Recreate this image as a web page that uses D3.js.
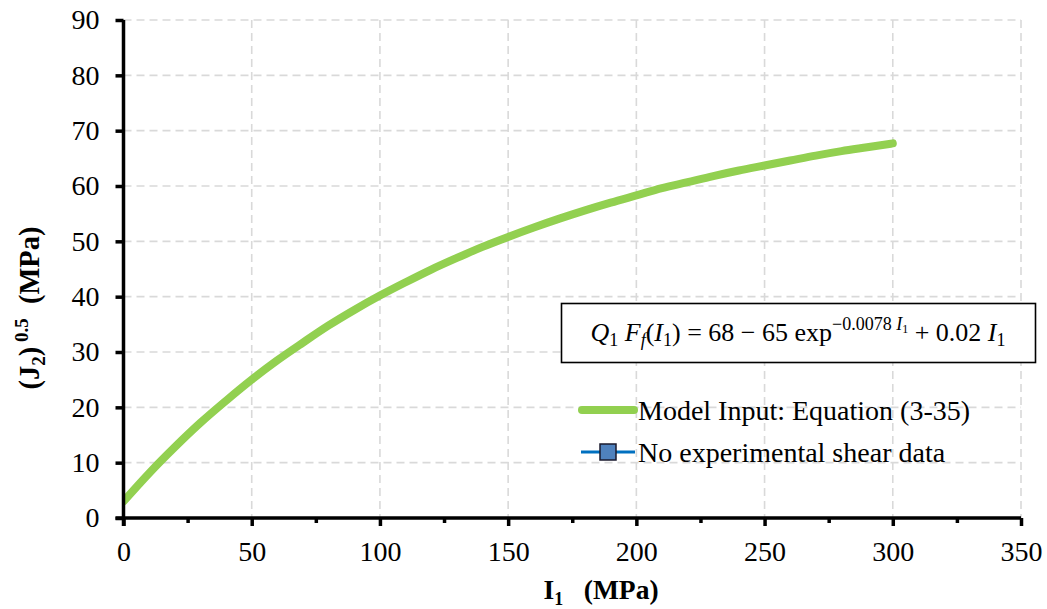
<!DOCTYPE html>
<html>
<head>
<meta charset="utf-8">
<script src="https://cdn.jsdelivr.net/npm/d3@7/dist/d3.min.js"></script>
<style>
  html, body { margin: 0; padding: 0; background: #fff; }
  svg { display: block; }
  svg text { font-family: "Times New Roman", "Liberation Serif", Tinos, "DejaVu Serif", serif !important; fill: #000; }
</style>
</head>
<body>
<svg id="chart" width="1047" height="609"></svg>
<script>
// Model input curve: shear strength (J2)^0.5 against I1, both in MPa
const i1Values = [0, 10, 20, 30, 40, 50, 60, 70, 80, 90, 100, 110, 120, 130, 140, 150,
                  160, 170, 180, 190, 200, 210, 220, 230, 240, 250, 260, 270, 280, 290, 300];
const j2RootValues = [3.0, 8.1, 12.8, 17.2, 21.2, 25.0, 28.5, 31.7, 34.8, 37.6, 40.2, 42.6, 44.9, 47.0, 49.0, 50.8,
                      52.5, 54.1, 55.6, 57.0, 58.3, 59.6, 60.7, 61.8, 62.8, 63.7, 64.6, 65.5, 66.3, 67.0, 67.7];

const xTicks = [0, 50, 100, 150, 200, 250, 300, 350];
const xMinorTicks = [25, 75, 125, 175, 225, 275, 325];
const yTicks = [0, 10, 20, 30, 40, 50, 60, 70, 80, 90];
const legendLabels = ["Model Input: Equation (3-35)", "No experimental shear data"];

const svg = d3.select("#chart");
const plotLeft = 123.5, plotRight = 1021, plotTop = 20, plotBottom = 518;

const x = d3.scaleLinear().domain([0, 350]).range([plotLeft, plotRight]);
const y = d3.scaleLinear().domain([0, 90]).range([plotBottom, plotTop]);

// dashed grid
const grid = svg.append("g").attr("stroke", "#d9d9d9").attr("stroke-width", 1.6)
  .attr("stroke-dasharray", "8,5").attr("fill", "none");
grid.selectAll("line.h").data(yTicks.filter(d => d > 0)).join("line").attr("class", "h")
  .attr("x1", plotLeft).attr("x2", plotRight).attr("y1", d => y(d)).attr("y2", d => y(d));
grid.selectAll("line.v").data(xTicks.filter(d => d > 0)).join("line").attr("class", "v")
  .attr("y1", plotTop).attr("y2", plotBottom).attr("x1", d => x(d)).attr("x2", d => x(d));

// curve
svg.append("clipPath").attr("id", "plotClip").append("rect")
  .attr("x", plotLeft).attr("y", plotTop - 10).attr("width", plotRight - plotLeft + 10).attr("height", plotBottom - plotTop + 10);

const line = d3.line().x((d, i) => x(i1Values[i])).y(d => y(d)).curve(d3.curveMonotoneX);
svg.append("path")
  .attr("clip-path", "url(#plotClip)")
  .attr("d", line(j2RootValues))
  .attr("fill", "none").attr("stroke", "#92d050").attr("stroke-width", 8)
  .attr("stroke-linecap", "round").attr("stroke-linejoin", "round");

// axes
const xAxis = svg.append("g").attr("transform", `translate(0,${plotBottom})`)
  .call(d3.axisBottom(x).tickValues(xTicks).tickSize(8).tickPadding(15).tickFormat(d3.format("d")));
const xMinor = svg.append("g").attr("transform", `translate(0,${plotBottom})`)
  .call(d3.axisBottom(x).tickValues(xMinorTicks).tickSize(5).tickFormat(""));
xMinor.select(".domain").remove();
const yAxis = svg.append("g").attr("transform", `translate(${plotLeft},0)`)
  .call(d3.axisLeft(y).tickValues(yTicks).tickSize(8).tickPadding(16).tickFormat(d3.format("d")));

[xAxis, xMinor, yAxis].forEach(g => {
  g.attr("font-family", null);
  g.selectAll(".domain").attr("stroke", "#000").attr("stroke-width", 3.5);
  g.selectAll(".tick line").attr("stroke", "#000").attr("stroke-width", 3.5);
  g.selectAll(".tick text").attr("fill", "#000").style("font-size", "28px");
});
xAxis.select(".domain").attr("d", `M${plotLeft - 8},0H${plotRight}`);
yAxis.select(".domain").attr("d", `M0,${plotTop}V${plotBottom + 8}`);
xAxis.selectAll(".tick text").attr("dy", "0.71em");

// axis titles
const xt = svg.append("text").attr("x", 601).attr("y", 599)
  .attr("text-anchor", "middle").style("font-size", "27.5px").style("font-weight", "bold");
xt.append("tspan").text("I");
xt.append("tspan").attr("dy", 6).style("font-size", "18px").text("1");
xt.append("tspan").attr("dy", -6).text("\u00a0\u00a0 (MPa)");

const yt = svg.append("text").attr("transform", `translate(39,308) rotate(-90)`)
  .attr("text-anchor", "middle").style("font-size", "28.5px").style("font-weight", "bold");
yt.append("tspan").text("(J");
yt.append("tspan").attr("dy", 6).style("font-size", "19px").text("2");
yt.append("tspan").attr("dy", -6).text(")");
yt.append("tspan").attr("dy", -11).style("font-size", "19px").text("\u00a00.5");
yt.append("tspan").attr("dy", 11).text("\u00a0\u00a0(MPa)");

// equation box
svg.append("rect").attr("x", 561.5).attr("y", 303.5).attr("width", 474).attr("height", 59)
  .attr("fill", "#fff").attr("stroke", "#000").attr("stroke-width", 1.6);
const eq = svg.append("text").attr("x", 798).attr("y", 341).attr("text-anchor", "middle")
  .style("font-size", "26px");
eq.append("tspan").style("font-style", "italic").text("Q");
eq.append("tspan").attr("dy", 5).style("font-size", "18px").text("1");
eq.append("tspan").attr("dy", -5).text("\u00a0");
eq.append("tspan").style("font-style", "italic").text("F");
eq.append("tspan").attr("dy", 5).style("font-size", "18px").style("font-style", "italic").text("f");
eq.append("tspan").attr("dy", -5).text("(");
eq.append("tspan").style("font-style", "italic").text("I");
eq.append("tspan").attr("dy", 5).style("font-size", "18px").text("1");
eq.append("tspan").attr("dy", -5).text(") = 68 \u2212 65 exp");
eq.append("tspan").attr("dy", -11).style("font-size", "18px").text("\u22120.0078\u00a0");
eq.append("tspan").style("font-size", "18px").style("font-style", "italic").text("I");
eq.append("tspan").attr("dy", 3).style("font-size", "12px").text("1");
eq.append("tspan").attr("dy", 8).text("\u00a0+ 0.02\u00a0");
eq.append("tspan").style("font-style", "italic").text("I");
eq.append("tspan").attr("dy", 5).style("font-size", "18px").text("1");

// legend
const lg = svg.append("g");
lg.append("line").attr("x1", 582).attr("x2", 634).attr("y1", 410).attr("y2", 410)
  .attr("stroke", "#92d050").attr("stroke-width", 8).attr("stroke-linecap", "round");
lg.append("line").attr("x1", 581).attr("x2", 635).attr("y1", 452).attr("y2", 452)
  .attr("stroke", "#0070c0").attr("stroke-width", 3);
lg.append("rect").attr("x", 600).attr("y", 444).attr("width", 16).attr("height", 16)
  .attr("fill", "#4f81bd").attr("stroke", "#1a1a2e").attr("stroke-width", 1.5);
lg.selectAll("text").data(legendLabels).join("text")
  .attr("x", 638).attr("y", (d, i) => 420 + i * 42)
  .style("font-size", "28px").text(d => d);
</script>
</body>
</html>
